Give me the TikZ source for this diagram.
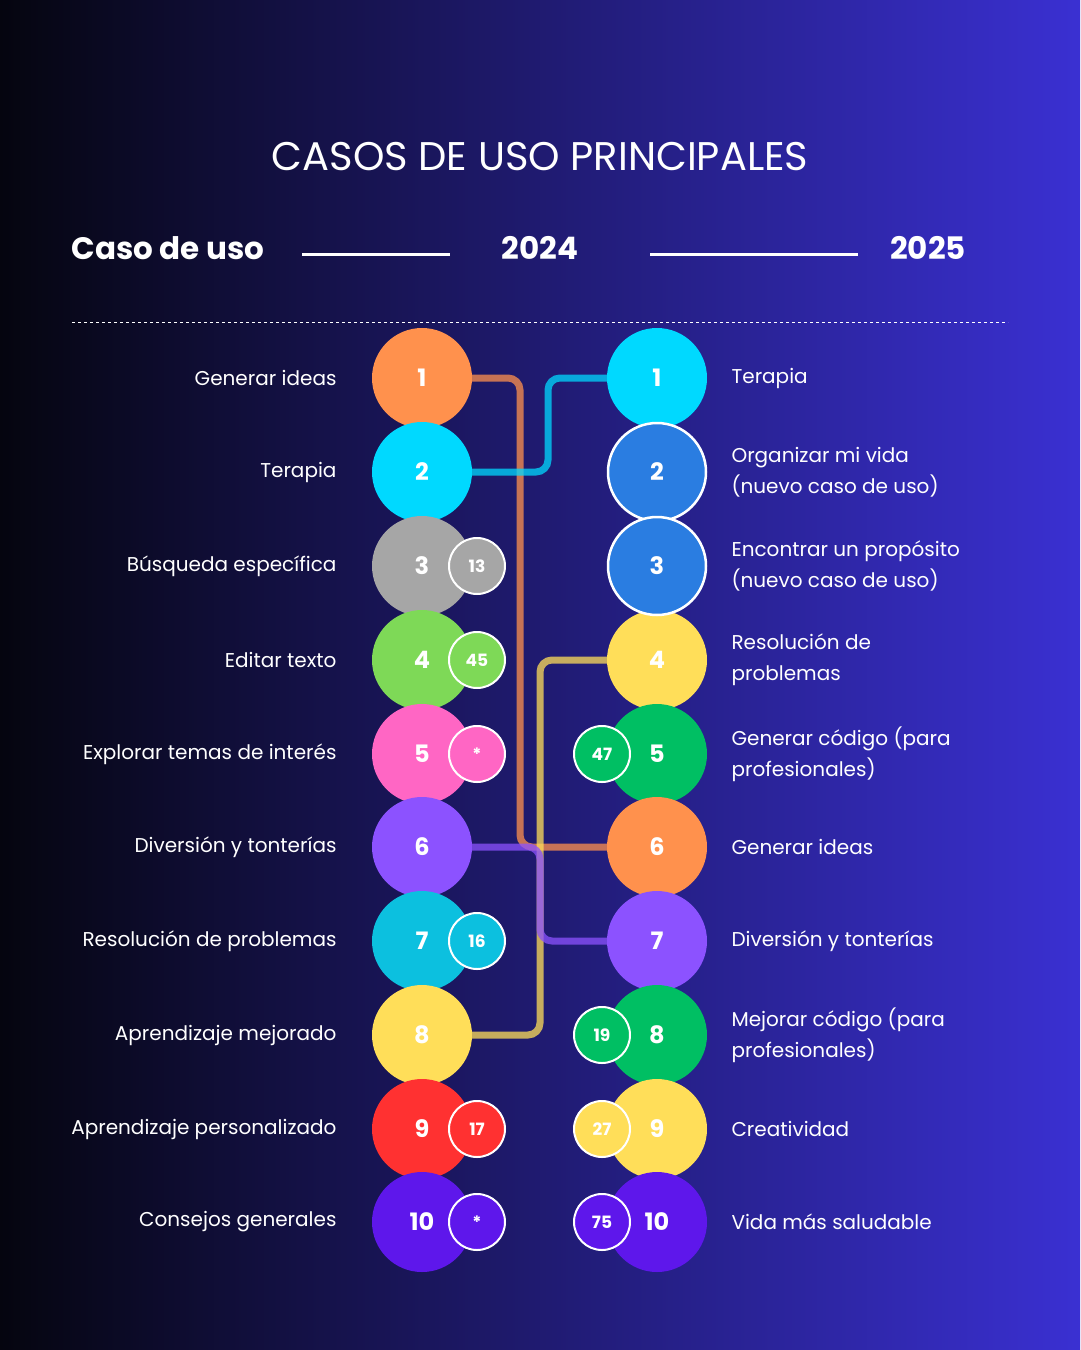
\documentclass[tikz,border=0pt]{standalone}
\usepackage{fontspec}
\setmainfont{Poppins}
\definecolor{cOrange}{HTML}{FF914D}
\definecolor{cCyan}{HTML}{00D9FF}
\definecolor{cGrey}{HTML}{A6A6A6}
\definecolor{cLime}{HTML}{7ED957}
\definecolor{cPink}{HTML}{FF66C4}
\definecolor{cPurple}{HTML}{8C52FF}
\definecolor{cTeal}{HTML}{0CC0DF}
\definecolor{cYellow}{HTML}{FFDE59}
\definecolor{cRed}{HTML}{FF3131}
\definecolor{cViolet}{HTML}{5E17EB}
\definecolor{cBlue}{HTML}{2A7DE1}
\definecolor{cGreen}{HTML}{00BF63}
\definecolor{bgL}{HTML}{05050F}
\definecolor{bgR}{HTML}{3A30D2}
\begin{document}
\begin{tikzpicture}
[ x=1pt, y=-1pt
, rank/.style={circle, minimum size=100pt, inner sep=0pt, text=white, font=\bfseries\fontsize{24}{24}\selectfont}
, badge/.style={circle, minimum size=56pt, inner sep=0pt, draw=white, line width=2pt, text=white, font=\bfseries\fontsize{17}{17}\selectfont}
, lefttext/.style={anchor=east, text=white, font=\fontsize{20}{24}\selectfont}
, righttext/.style={anchor=west, text=white, align=left, font=\fontsize{20}{31}\selectfont}
, link/.style={line width=7pt, rounded corners=12pt, opacity=0.75}
, head/.style={text=white, font=\bfseries\fontsize{31}{31}\selectfont}
]
\shade[left color=bgL, right color=bgR] (0,0) rectangle (1080,1350);
\useasboundingbox (0,0) rectangle (1080,1350);
% Title and header
\node (title) [text=white, font=\fontsize{40}{40}\selectfont] at (540,157) {CASOS DE USO PRINCIPALES};
\node (hcase) [head, anchor=west] at (68,248) {Caso de uso};
\node (h2024) [head] at (540,248) {2024};
\node (h2025) [head] at (928,248) {2025};
\draw [white, line width=3pt] (302,254) -- (450,254);
\draw [white, line width=3pt] (650,254) -- (858,254);
\draw [white, dashed, line width=1pt] (72,322) -- (1008,322);
% Links (behind the circles)
\coordinate (lo) at (472,378);
\draw [link, draw=cOrange] (lo) -| (520,847) -- (607,847);
\draw [link, draw=cCyan] (472,472) -| (548,378) -- (607,378);
\draw [link, draw=cYellow] (472,1035) -| (540,660) -- (607,660);
\draw [link, draw=cPurple] (472,847) -| (540,941) -- (607,941);
% Left column
\foreach \i/\y/\c/\t in {1/378/cOrange/Generar ideas, 2/472/cCyan/Terapia / compañía,
  3/566/cGrey/Búsqueda específica, 4/660/cLime/Editar texto,
  5/754/cPink/Explorar temas de interés, 6/847/cPurple/Diversión y tonterías,
  7/941/cTeal/Resolución de problemas, 8/1035/cYellow/Aprendizaje mejorado,
  9/1129/cRed/Aprendizaje personalizado, 10/1222/cViolet/Consejos generales}{
  \node (l\i) [rank, fill=\c] at (422,\y) {\i};
  \node (lt\i) [lefttext] at (340,\y) {\t};
}
\node (lb3) [badge, fill=cGrey] at (477,566) {13};
\node (lb4) [badge, fill=cLime] at (477,660) {45};
\node (lb5) [badge, fill=cPink] at (477,754) {*};
\node (lb7) [badge, fill=cTeal] at (477,941) {16};
\node (lb9) [badge, fill=cRed] at (477,1129) {17};
\node (lb10) [badge, fill=cViolet] at (477,1222) {*};
% Right column
\foreach \i/\y/\c/\t in {1/378/cCyan/Terapia / compañía, 2/472/cBlue/Organizar mi vida\\(nuevo caso de uso),
  3/566/cBlue/Encontrar un propósito\\(nuevo caso de uso), 4/660/cYellow/Resolución de\\problemas,
  5/754/cGreen/Generar código (para\\profesionales), 6/847/cOrange/Generar ideas,
  7/941/cPurple/Diversión y tonterías, 8/1035/cGreen/Mejorar código (para\\profesionales),
  9/1129/cYellow/Creatividad, 10/1222/cViolet/Vida más saludable}{
  \node (r\i) [rank, fill=\c] at (657,\y) {\i};
  \node (rt\i) [righttext] at (728,\y) {\t};
}
\node [rank, fill=cBlue, draw=white, line width=2.5pt, minimum size=98pt] at (r2) {2};
\node [rank, fill=cBlue, draw=white, line width=2.5pt, minimum size=98pt] at (r3) {3};
\node (rb5) [badge, fill=cGreen] at (602,754) {47};
\node (rb8) [badge, fill=cGreen] at (602,1035) {19};
\node (rb9) [badge, fill=cYellow] at (602,1129) {27};
\node (rb10) [badge, fill=cViolet] at (602,1222) {75};
\end{tikzpicture}
\end{document}
